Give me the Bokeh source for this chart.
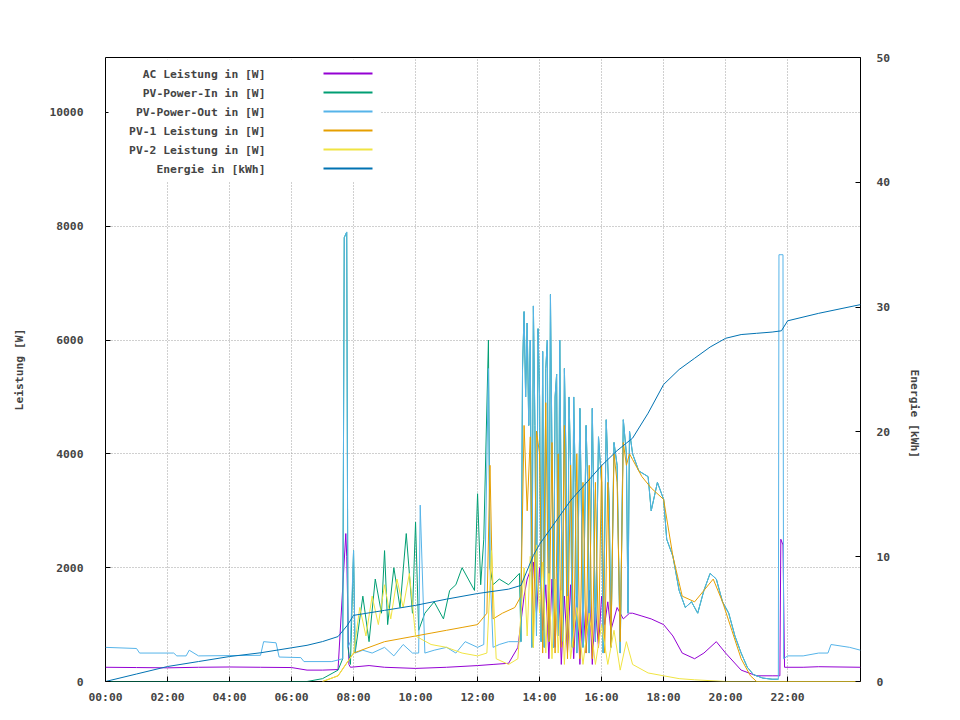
import math
from bokeh.plotting import figure
from bokeh.models import Range1d, LinearAxis, FixedTicker, Label, BoxAnnotation
from bokeh.embed import file_html
from bokeh.resources import INLINE

# ---- data (hours, values) ----
ac_t = [0, 1, 2, 3, 4, 5, 6, 6.5, 7.0, 7.5, 7.75, 7.78, 7.85, 7.9, 8.5, 9, 10, 11, 12, 12.5, 13.0, 13.3, 13.5, 13.6, 13.8, 13.9, 14.0, 14.1, 14.2, 14.3, 14.4, 14.5, 14.6, 14.7, 14.8, 14.9, 15.0, 15.1, 15.2, 15.3, 15.4, 15.5, 15.6, 15.7, 15.8, 15.9, 16.0, 16.1, 16.2, 16.3, 16.5, 16.7, 16.9, 17.0, 17.3, 17.6, 18.0, 18.3, 18.6, 19.0, 19.3, 19.7, 20.0, 20.5, 21.0, 21.5, 21.75, 21.78, 21.85, 21.9, 22.5, 23.0, 24.35]
ac_v = [250, 245, 240, 250, 255, 250, 245, 200, 200, 210, 2600, 2200, 300, 250, 280, 250, 230, 250, 280, 300, 320, 600, 1500, 1800, 2100, 1200, 2000, 900, 1700, 400, 1800, 600, 1900, 300, 1500, 500, 1700, 400, 1500, 300, 1400, 500, 1600, 300, 1300, 600, 1500, 1000, 1400, 900, 1300, 1100, 1200, 1200, 1150, 1100, 1000, 800, 500, 400, 500, 700, 500, 200, 100, 100, 100, 2500, 2400, 250, 250, 260, 250]

out_morning_t = [0, 1.0, 1.1, 2.2, 2.3, 2.6, 2.7, 3.0, 5.0, 5.1, 5.5, 5.6, 6.3, 6.4, 7.3, 7.65, 7.7, 7.78, 7.82, 7.9, 8.0, 8.05, 8.3, 8.6, 9.0, 9.3, 9.6, 9.9, 10.1, 10.15, 10.3, 10.6, 11.0, 11.3, 11.6, 12.0, 12.2, 12.35, 12.4, 12.5, 12.7, 13.0, 13.35]
out_morning_v = [600, 580, 500, 500, 450, 450, 550, 450, 460, 700, 680, 430, 420, 350, 350, 400, 7800, 7900, 600, 700, 2300, 500, 550, 500, 600, 450, 650, 500, 500, 3100, 500, 550, 600, 500, 700, 600, 650, 5500, 2000, 600, 650, 700, 700]
in_morning_t = [0, 6.5, 7.0, 7.5, 7.65, 7.7, 7.78, 7.82, 7.9, 8.0, 8.05, 8.3, 8.5, 8.7, 8.9, 9.0, 9.1, 9.3, 9.5, 9.7, 9.9, 10.0, 10.1, 10.3, 10.6, 10.9, 11.1, 11.3, 11.5, 11.7, 11.9, 12.0, 12.1, 12.2, 12.35, 12.4, 12.5, 12.7, 13.0, 13.35]
in_morning_v = [0, 0, 50, 200, 400, 7800, 7900, 600, 300, 2300, 500, 1500, 700, 1800, 1200, 2300, 1000, 2000, 1300, 2600, 1200, 2800, 900, 1200, 1400, 1100, 1600, 1700, 2000, 1800, 1600, 3300, 1700, 2500, 6000, 2000, 1700, 1800, 1700, 1900]
after_t = [13.4, 13.45, 13.5, 13.55, 13.6, 13.65, 13.7, 13.75, 13.8, 13.85, 13.9, 13.95, 14.0, 14.05, 14.1, 14.15, 14.2, 14.25, 14.3, 14.35, 14.4, 14.45, 14.5, 14.55, 14.6, 14.65, 14.7, 14.75, 14.8, 14.85, 14.9, 14.95, 15.0, 15.05, 15.1, 15.15, 15.2, 15.3, 15.35, 15.4, 15.5, 15.55, 15.6, 15.7, 15.75, 15.8, 15.9, 16.0, 16.05, 16.15, 16.25, 16.3, 16.4, 16.5, 16.6, 16.7, 16.8, 16.85, 16.9, 17.0, 17.2, 17.5, 17.6, 17.8, 18.0, 18.1, 18.3, 18.5, 18.7, 18.9, 19.1, 19.3, 19.5, 19.7, 19.9, 20.1, 20.3, 20.5, 20.7, 20.9, 21.2, 21.5, 21.7, 21.72, 21.85, 21.87, 22.0, 22.5, 23.0, 23.3, 23.4, 24.0, 24.35]
after_v = [700, 5500, 6500, 5000, 6300, 4500, 6000, 600, 6600, 4500, 800, 6200, 5000, 700, 5800, 600, 5500, 6000, 700, 6800, 4000, 600, 5000, 5400, 800, 6000, 3000, 700, 5500, 4000, 600, 5000, 3800, 600, 5000, 3500, 500, 4800, 3000, 600, 4500, 3500, 500, 4800, 3000, 700, 4300, 3500, 500, 4600, 3000, 600, 4200, 3800, 500, 4600, 4000, 1200, 4400, 4000, 3700, 3600, 3000, 3500, 3200, 2500, 2200, 1600, 1300, 1400, 1200, 1600, 1900, 1800, 1400, 1200, 800, 500, 250, 120, 60, 40, 40, 7500, 7500, 400, 450, 450, 500, 500, 650, 600, 550]
in_after_t = after_t[:83]
in_after_v = after_v[:83]

pv1_t = [7.0, 7.5, 8.0, 8.5, 9.0, 9.5, 10.0, 10.5, 11.0, 11.5, 12.0, 12.3, 12.4, 12.5, 12.8, 13.2, 13.4, 13.5, 13.6, 13.7, 13.8, 13.9, 14.0, 14.1, 14.2, 14.3, 14.4, 14.5, 14.6, 14.7, 14.8, 14.9, 15.0, 15.1, 15.2, 15.3, 15.4, 15.5, 15.6, 15.7, 15.8, 15.9, 16.0, 16.1, 16.2, 16.3, 16.4, 16.5, 16.6, 16.7, 16.8, 16.9, 17.0, 17.3, 17.6, 18.0, 18.3, 18.6, 19.0, 19.3, 19.6, 19.9, 20.2, 20.5, 20.8, 21.0, 24.35]
pv1_v = [0, 100, 500, 600, 700, 750, 800, 850, 900, 950, 1000, 1200, 3800, 1100, 1200, 1300, 1500, 4500, 3000, 4300, 600, 4400, 4000, 500, 4900, 700, 4200, 500, 4000, 600, 4500, 400, 3800, 600, 4000, 400, 3500, 500, 3800, 400, 3500, 600, 3800, 500, 3500, 600, 4000, 3500, 700, 4200, 3800, 4000, 3900, 3600, 3400, 3200, 2200, 1500, 1400, 1600, 1800, 1400, 900, 400, 100, 0, 0]

pv2_t = [7.0, 7.5, 8.0, 8.2, 8.4, 8.6, 8.8, 9.0, 9.2, 9.4, 9.6, 9.8, 10.0, 10.5, 11.0, 11.5, 12.0, 12.3, 12.45, 12.6, 13.0, 13.3, 13.5, 13.6, 13.7, 13.8, 13.9, 14.0, 14.1, 14.2, 14.3, 14.4, 14.5, 14.6, 14.7, 14.8, 14.9, 15.0, 15.2, 15.4, 15.6, 15.8, 16.0, 16.2, 16.4, 16.6, 16.8, 17.0, 17.5, 18.0, 18.5, 19.0, 20.0, 24.35]
pv2_v = [0, 100, 500, 1300, 800, 1500, 1000, 1700, 1100, 1800, 1300, 1900, 800, 650, 600, 500, 450, 500, 2300, 400, 300, 400, 2000, 800, 2200, 600, 2400, 1200, 2100, 500, 1900, 400, 1800, 500, 1600, 300, 1500, 400, 1300, 300, 1200, 300, 1000, 300, 900, 200, 700, 300, 150, 100, 50, 30, 0, 0]

en_t = [0, 1, 2, 3, 4, 5, 6, 6.5, 7.0, 7.5, 7.8, 8.0, 9.0, 10.0, 11.0, 12.0, 13.0, 13.4, 13.8, 14.0, 15.0, 16.0, 16.5, 17.0, 17.5, 18.0, 18.5, 19.0, 19.5, 20.0, 20.5, 21.0, 21.5, 21.8, 22.0, 23.0, 24.35]
en_v = [0, 0.6, 1.2, 1.6, 2.0, 2.3, 2.7, 2.9, 3.2, 3.6, 4.5, 5.3, 5.7, 6.1, 6.6, 7.05, 7.4, 7.7, 10.1, 11.0, 14.5, 17.3, 18.5, 19.5, 21.5, 23.8, 25.0, 25.9, 26.8, 27.5, 27.8, 27.9, 28.0, 28.1, 28.9, 29.5, 30.2]

xticks = [0, 2, 4, 6, 8, 10, 12, 14, 16, 18, 20, 22]
xlabels = ["00:00", "02:00", "04:00", "06:00", "08:00", "10:00", "12:00", "14:00", "16:00", "18:00", "20:00", "22:00"]
yticks = [0, 2000, 4000, 6000, 8000, 10000]
y2ticks = [0, 10, 20, 30, 40, 50]
legend_labels = ["AC Leistung in [W]", "PV-Power-In in [W]", "PV-Power-Out in [W]", "PV-1 Leistung in [W]", "PV-2 Leistung in [W]", "Energie in [kWh]"]
colors = ["#9400d3", "#009e73", "#56b4e9", "#e69f00", "#f0e442", "#0072b2"]

FONT = "DejaVu Sans Mono"
FS = "8.5pt"
p = figure(width=960, height=720, output_backend="svg", toolbar_location=None,
           x_range=Range1d(0, 24.35), y_range=Range1d(0, 10966),
           min_border_left=105, min_border_right=100, min_border_top=57, min_border_bottom=39,
           title=None)
p.extra_y_ranges = {"e": Range1d(0, 50)}
p.outline_line_color = "black"
p.background_fill_color = "white"
p.border_fill_color = "white"

def style(ax):
    ax.major_tick_in = 5
    ax.major_tick_out = 0
    ax.minor_tick_line_color = None
    ax.axis_line_color = None
    ax.major_label_text_font = FONT
    ax.major_label_text_font_size = FS
    ax.major_label_text_font_style = "bold"
    ax.axis_label_text_font = FONT
    ax.axis_label_text_font_size = FS
    ax.axis_label_text_font_style = "bold"

style(p.xaxis[0]); style(p.yaxis[0])
p.xaxis[0].ticker = FixedTicker(ticks=xticks)
p.xaxis[0].major_label_overrides = {t: l for t, l in zip(xticks, xlabels)}
p.xaxis[0].major_label_standoff = 8
p.yaxis[0].ticker = FixedTicker(ticks=yticks)
p.yaxis[0].axis_label = "Leistung [W]"
p.yaxis[0].major_label_standoff = 22
p.yaxis[0].axis_label_standoff = 20

ax2 = LinearAxis(y_range_name="e", ticker=FixedTicker(ticks=y2ticks), axis_label="Energie [kWh]")
style(ax2)
ax2.major_label_standoff = 16
ax2.axis_label_standoff = 22
ax2.axis_label_orientation = -math.pi / 2
p.add_layout(ax2, "right")

p.grid.grid_line_color = "#a0a0a0"
p.grid.grid_line_dash = "1 2"
p.xgrid.ticker = FixedTicker(ticks=xticks)
p.ygrid.ticker = FixedTicker(ticks=yticks)

p.line(ac_t, ac_v, color=colors[0], line_width=1)
p.line(in_morning_t + in_after_t, in_morning_v + in_after_v, color=colors[1], line_width=1)
p.line(out_morning_t + after_t, out_morning_v + after_v, color=colors[2], line_width=1)
p.line(pv1_t, pv1_v, color=colors[3], line_width=1)
p.line(pv2_t, pv2_v, color=colors[4], line_width=1)
p.line(en_t, en_v, color=colors[5], line_width=1, y_range_name="e")

# legend (gnuplot style: label then sample)
ph = 624
p.add_layout(BoxAnnotation(left=3, right=275, top=ph - 2, bottom=ph - 124,
                           left_units="screen", right_units="screen", top_units="screen", bottom_units="screen",
                           fill_color="white", fill_alpha=1, line_color=None, level="overlay"))
for i, (lab, c) in enumerate(zip(legend_labels, colors)):
    d = 16 + i * 19
    p.add_layout(Label(x=160, y=ph - d, x_units="screen", y_units="screen", text=lab,
                       text_align="right", text_baseline="middle", text_font=FONT,
                       text_font_size=FS, text_font_style="bold", level="overlay"))
    p.add_layout(BoxAnnotation(left=218, right=267, top=ph - d + 1, bottom=ph - d - 1,
                               left_units="screen", right_units="screen", top_units="screen", bottom_units="screen",
                               fill_color=c, fill_alpha=1, line_color=None, level="overlay"))

p.add_layout(Label(x=335, y=ph + 30, x_units="screen", y_units="screen",
                   text="Tagesdiagramm vom 2026-07-24", text_align="center", text_baseline="middle",
                   text_font=FONT, text_font_size=FS, text_font_style="bold"))

open("out.html", "w").write(file_html(p, INLINE))
